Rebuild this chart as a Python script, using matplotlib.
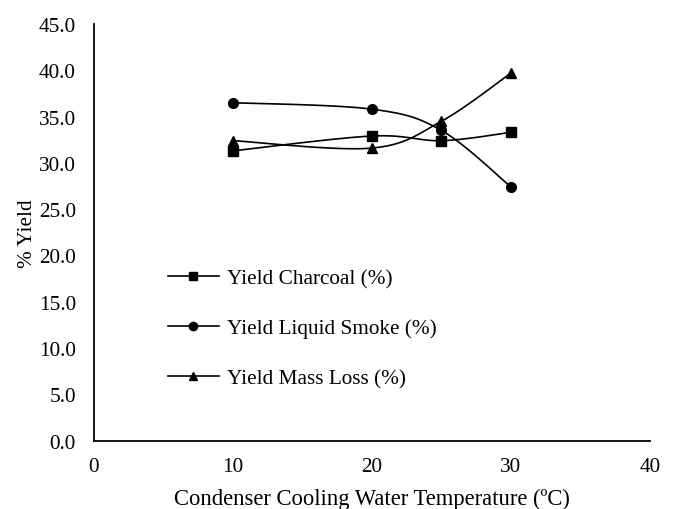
import numpy as np
import matplotlib
matplotlib.use("Agg")
import matplotlib.pyplot as plt

plt.rcParams["font.family"] = ["Liberation Serif", "DejaVu Serif"]

# data
temps = [10, 20, 25, 30]
charcoal = [31.3, 32.9, 32.4, 33.3]
liquid_smoke = [36.5, 35.8, 33.5, 27.4]
mass_loss = [32.4, 31.6, 34.5, 39.7]

labels = ["Yield Charcoal (%)", "Yield Liquid Smoke (%)", "Yield Mass Loss (%)"]
markers = ["s", "o", "^"]


def smooth(x, y, n=40):
    """Courbe lissee facon Excel (Catmull-Rom / Bezier)."""
    x = np.asarray(x, float)
    y = np.asarray(y, float)
    pts = np.column_stack([x, y])
    out = []
    for i in range(len(pts) - 1):
        p0 = pts[i - 1] if i > 0 else pts[i]
        p1 = pts[i]
        p2 = pts[i + 1]
        p3 = pts[i + 2] if i + 2 < len(pts) else pts[i + 1]
        c1 = p1 + (p2 - p0) / 6
        c2 = p2 - (p3 - p1) / 6
        t = np.linspace(0, 1, n)[:, None]
        seg = ((1 - t) ** 3 * p1 + 3 * (1 - t) ** 2 * t * c1
               + 3 * (1 - t) * t ** 2 * c2 + t ** 3 * p2)
        out.append(seg if i == 0 else seg[1:])
    out = np.vstack(out)
    return out[:, 0], out[:, 1]


fig = plt.figure(figsize=(6.75, 5.1), dpi=100)
ax = fig.add_axes([0.139, 0.134, 0.824, 0.817])

for ys, lab, m in zip([charcoal, liquid_smoke, mass_loss], labels, markers):
    sx, sy = smooth(temps, ys)
    ax.plot(sx, sy, color="black", lw=1.2)
    ax.plot(temps, ys, linestyle="none", marker=m, color="black", ms=7)
    ax.plot([], [], color="black", lw=1.2, marker=m, ms=6, label=lab)

ax.set_xlim(0, 40)
ax.set_ylim(0, 45)
ax.set_xticks([0, 10, 20, 30, 40])
ax.set_yticks(np.arange(0, 46, 5))
ax.set_yticklabels([f"{v:.1f}" for v in np.arange(0, 46, 5)])
ax.tick_params(length=0, labelsize=15.3)
ax.tick_params(axis="y", pad=13)
ax.tick_params(axis="x", pad=12)
for s in ["top", "right"]:
    ax.spines[s].set_visible(False)
for s in ["left", "bottom"]:
    ax.spines[s].set_linewidth(1.3)

ax.set_xlabel("Condenser Cooling Water Temperature (ºC)", fontsize=16.3, labelpad=8)
ax.set_ylabel("% Yield", fontsize=15.3, labelpad=1)

ax.legend(loc="upper left", bbox_to_anchor=(0.2205, 0.509), bbox_transform=fig.transFigure,
          frameon=False, fontsize=15.3, labelspacing=1.42, handlelength=2.4,
          handletextpad=0.38)

fig.savefig("out.png", dpi=100)
